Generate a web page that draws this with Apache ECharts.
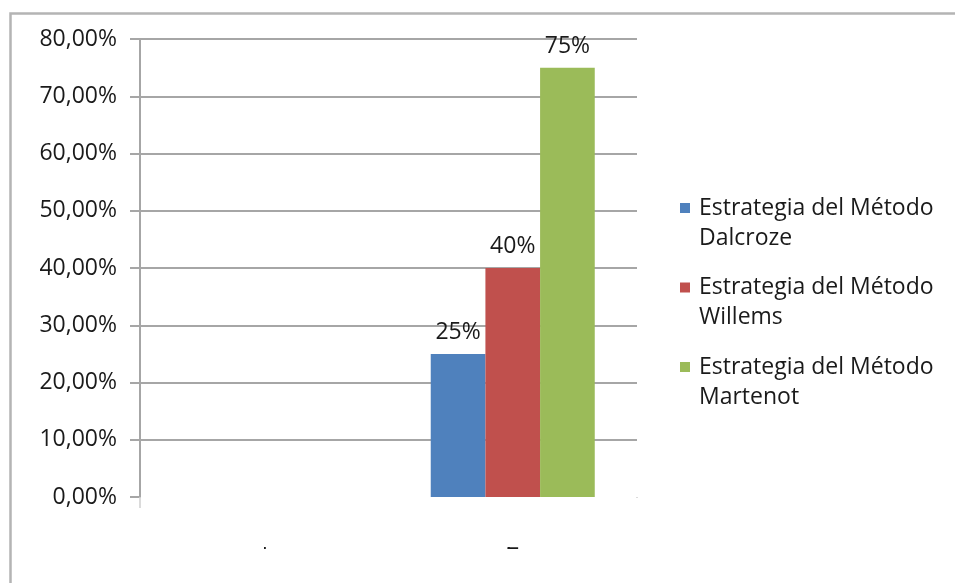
<!DOCTYPE html>
<html>
<head>
<meta charset="utf-8">
<script src="https://cdn.jsdelivr.net/npm/echarts@6/dist/echarts.min.js"></script>
<style>
html,body{margin:0;padding:0;background:#fff;}
#c{width:955px;height:583px;}
</style>
</head>
<body>
<div id="c"></div>
<script>
const categories = ['1', '2'];
const seriesNames = ['Estrategia del Método Dalcroze', 'Estrategia del Método Willems', 'Estrategia del Método Martenot'];
const dalcroze = [null, 25];
const willems = [null, 40];
const martenot = [null, 75];
const yTicks = [0, 10, 20, 30, 40, 50, 60, 70, 80];
const colors = ['#4F81BD', '#C0504D', '#9BBB59'];

const FONT = 'Open Sans';
const FS = 23;
const chart = echarts.init(document.getElementById('c'));
const values = [dalcroze, willems, martenot];

chart.setOption({
  animation: false,
  backgroundColor: '#fff',
  textStyle: { fontFamily: FONT },
  graphic: [
    { type: 'rect', left: 8, top: 11, shape: { width: 980, height: 600 },
      style: { fill: 'none', stroke: '#b4b4b4', lineWidth: 2.5 }, z: 100, silent: true },
    { type: 'rect', left: 150, top: 498, shape: { width: 495, height: 49 },
      style: { fill: '#fff' }, z: 100, silent: true }
  ],
  grid: { left: 140, right: 318, top: 39, bottom: 86, containLabel: false },
  legend: {
    orient: 'vertical',
    left: 675,
    top: 158,
    itemWidth: 10,
    itemHeight: 10,
    itemGap: -10.5,
    icon: 'rect',
    data: seriesNames,
    formatter: function (name) {
      const parts = name.split(' ');
      const last = parts.pop();
      return '\n' + parts.join(' ') + '\n' + last;
    },
    textStyle: { fontFamily: FONT, fontSize: FS, color: '#1a1a1a', lineHeight: 30, padding: [0, 0, 0, 4] }
  },
  xAxis: {
    type: 'category',
    data: categories,
    boundaryGap: true,
    axisLine: { show: false },
    axisTick: { show: true, length: 11, lineStyle: { color: '#cfcfcf', width: 1.5 },
      interval: function (i) { return i === 0; } },
    axisLabel: { fontFamily: FONT, fontSize: FS, color: '#1a1a1a', margin: 34 },
    splitLine: { show: false }
  },
  yAxis: {
    type: 'value',
    min: 0,
    max: 80,
    interval: 10,
    axisLine: { show: true, lineStyle: { color: '#a6a6a6', width: 2 } },
    axisTick: { show: true, length: 10, lineStyle: { color: '#a6a6a6', width: 2 } },
    axisLabel: {
      fontFamily: FONT, fontSize: FS, color: '#1a1a1a', margin: 23,
      formatter: function (v) { return yTicks.indexOf(v) >= 0 ? v.toFixed(2).replace('.', ',') + '%' : ''; }
    },
    splitLine: { show: true, showMinLine: false, lineStyle: { color: '#a6a6a6', width: 2 } }
  },
  series: seriesNames.map(function (n, i) {
    return {
      name: n,
      type: 'bar',
      data: values[i],
      barGap: '0%',
      barCategoryGap: '34%',
      itemStyle: { color: colors[i] },
      label: {
        show: true, position: 'top', distance: 10,
        fontFamily: FONT, fontSize: FS, color: '#1a1a1a',
        formatter: function (p) { return p.value == null ? '' : p.value + '%'; }
      }
    };
  })
});
</script>
</body>
</html>
